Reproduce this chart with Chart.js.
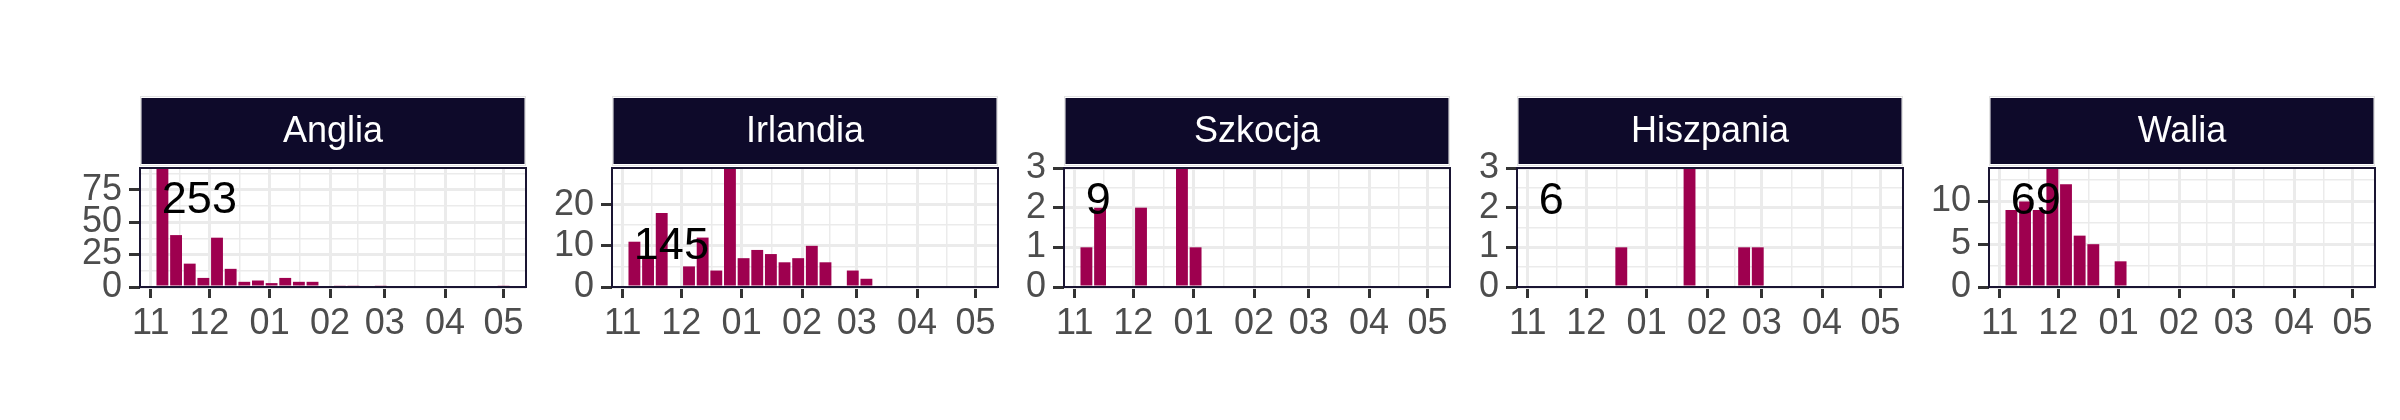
<!DOCTYPE html>
<html>
<head>
<meta charset="utf-8">
<script src="https://cdn.jsdelivr.net/npm/chart.js@4.4.1/dist/chart.umd.min.js"></script>
<style>
  html, body { margin: 0; padding: 0; background: #fff; }
  #page { position: relative; width: 2400px; height: 420px; overflow: hidden; }
  #page canvas { position: absolute; top: 0; }
</style>
</head>
<body>
<div id="page"></div>
<script>
// weekly bins: middle of each week, in days after 1 November
var weekDays = [6, 13, 20, 27, 34, 41, 48, 55, 62, 69, 76, 83, 90, 97, 104, 111, 118, 125, 132, 139, 146, 153, 160, 167, 174, 181];

var countries = ['Anglia', 'Irlandia', 'Szkocja', 'Hiszpania', 'Walia'];

var anglia    = [105, 40, 18, 7, 38, 14, 4, 5, 3, 7, 4, 4, 0, 1, 1, 0, 1, 0, 0, 0, 0, 0, 0, 0, 0, 1];
var irlandia  = [11, 7, 18, 0, 5, 12, 4, 29, 7, 9, 8, 6, 7, 10, 6, 0, 4, 2, 0, 0, 0, 0, 0, 0, 0, 0];
var szkocja   = [1, 2, 0, 0, 2, 0, 0, 3, 1, 0, 0, 0, 0, 0, 0, 0, 0, 0, 0, 0, 0, 0, 0, 0, 0, 0];
var hiszpania = [0, 0, 0, 0, 0, 0, 1, 0, 0, 0, 0, 3, 0, 0, 0, 1, 1, 0, 0, 0, 0, 0, 0, 0, 0, 0];
var walia     = [9, 10, 9, 15, 12, 6, 5, 0, 3, 0, 0, 0, 0, 0, 0, 0, 0, 0, 0, 0, 0, 0, 0, 0, 0, 0];

var totals  = [253, 145, 9, 6, 69];
var totalAt = [66.4, 9.9, 2.16, 2.16, 10];   // where the total sits, in counts

var monthDays   = [0, 30, 61, 92, 120, 151, 181];
var monthLabels = ['11', '12', '01', '02', '03', '04', '05'];

var yTicks = [[0, 25, 50, 75], [0, 10, 20], [0, 1, 2, 3], [0, 1, 2, 3], [0, 5, 10]];
var yTop   = [91.7, 28.9, 3, 3, 13.9];

// layout
var series = [anglia, irlandia, szkocja, hiszpania, walia];
var panelLeft = [140, 612, 1064, 1517, 1989];
var panelW = 386.5, axisW = 80, padR = 30;
var panelTop = 168, panelBottom = 287;
var xMin = -5.5, xMax = 192.5;

var FONT = "'Liberation Sans', Arial, Helvetica, sans-serif";
Chart.defaults.font.family = FONT;

// major breaks plus ggplot style minor breaks halfway between them
function withMinor(major, lo, hi) {
  var out = [];
  for (var i = 0; i < major.length; i++) {
    var prev = i > 0 ? major[i - 1] : major[i] - (major[1] - major[0]);
    var next = i < major.length - 1 ? major[i + 1] : major[i] + (major[i] - major[i - 1]);
    var before = (prev + major[i]) / 2;
    if (i === 0 && before > lo && before < hi) out.push({ value: before, main: false });
    out.push({ value: major[i], main: true });
    var mid = (major[i] + next) / 2;
    if (mid > lo && mid < hi) out.push({ value: mid, main: false });
  }
  return out;
}

var xTicks = withMinor(monthDays, xMin, xMax);

function isMain(ctx) { return ctx.tick && ctx.tick.main; }

var facetDecor = {
  id: 'facetDecor',
  afterDatasetsDraw: function (chart, args, opts) {
    var ctx = chart.ctx;
    ctx.save();
    ctx.font = '45px ' + FONT;
    ctx.fillStyle = '#000';
    ctx.textAlign = 'left';
    ctx.textBaseline = 'middle';
    ctx.fillText(String(opts.total), chart.scales.x.getPixelForValue(5.7), chart.scales.y.getPixelForValue(opts.totalAt));
    ctx.restore();
  },
  afterDraw: function (chart, args, opts) {
    var a = chart.chartArea, ctx = chart.ctx;
    ctx.save();
    // panel border
    ctx.strokeStyle = '#1A1533';
    ctx.lineWidth = 2;
    ctx.strokeRect(a.left, a.top, a.right - a.left, a.bottom - a.top);
    // strip
    ctx.strokeStyle = '#E3E3E3';
    ctx.lineWidth = 1;
    ctx.strokeRect(a.left + 0.5, 96.5, a.right - a.left - 1, 69);
    ctx.fillStyle = '#0E0A2A';
    ctx.fillRect(a.left + 1.5, 98, a.right - a.left - 3, 66);
    ctx.fillStyle = '#FFFFFF';
    ctx.font = '36px ' + FONT;
    ctx.textAlign = 'center';
    ctx.textBaseline = 'middle';
    ctx.fillText(opts.title, (a.left + a.right) / 2, 132);
    ctx.restore();
  }
};

var page = document.getElementById('page');

countries.forEach(function (name, i) {
  var canvas = document.createElement('canvas');
  canvas.width = axisW + panelW + padR;
  canvas.height = 420;
  canvas.style.left = (panelLeft[i] - axisW) + 'px';
  page.appendChild(canvas);

  var yt = withMinor(yTicks[i], 0, yTop[i]);

  new Chart(canvas.getContext('2d'), {
    type: 'bar',
    data: {
      datasets: [{
        data: weekDays.map(function (d, j) { return { x: d, y: series[i][j] }; }),
        backgroundColor: '#9E004F',
        borderWidth: 0,
        barPercentage: 0.87,
        categoryPercentage: 1
      }]
    },
    options: {
      responsive: false,
      animation: false,
      events: [],
      layout: { padding: { top: panelTop, right: padR, bottom: 0, left: 0 } },
      plugins: {
        legend: { display: false },
        tooltip: { enabled: false },
        facetDecor: { title: name, total: totals[i], totalAt: totalAt[i] }
      },
      scales: {
        x: {
          type: 'linear',
          min: xMin,
          max: xMax,
          offset: false,
          bounds: 'data',
          afterBuildTicks: function (s) { s.ticks = xTicks.map(function (t) { return { value: t.value, main: t.main }; }); },
          afterFit: function (s) { s.height = 420 - panelBottom; },
          border: { display: false },
          grid: {
            offset: false,
            color: '#EBEBEB',
            lineWidth: function (ctx) { return isMain(ctx) ? 3 : 1.5; },
            tickLength: 11,
            tickWidth: 3,
            tickColor: function (ctx) { return isMain(ctx) ? '#333333' : 'rgba(0,0,0,0)'; }
          },
          ticks: {
            autoSkip: false,
            maxRotation: 0,
            minRotation: 0,
            padding: 4,
            color: '#4D4D4D',
            font: { size: 36 },
            callback: function (v, idx, ticks) {
              return ticks[idx].main ? monthLabels[monthDays.indexOf(v)] : '';
            }
          }
        },
        y: {
          min: 0,
          max: yTop[i],
          bounds: 'data',
          afterBuildTicks: function (s) { s.ticks = yt.map(function (t) { return { value: t.value, main: t.main }; }); },
          afterFit: function (s) { s.width = axisW; },
          border: { display: false },
          grid: {
            color: '#EBEBEB',
            lineWidth: function (ctx) { return isMain(ctx) ? 3 : 1.5; },
            tickLength: 11,
            tickWidth: 3,
            tickColor: function (ctx) { return isMain(ctx) ? '#333333' : 'rgba(0,0,0,0)'; }
          },
          ticks: {
            autoSkip: false,
            padding: 7,
            color: '#4D4D4D',
            font: { size: 36 },
            callback: function (v, idx, ticks) { return ticks[idx].main ? String(v) : ''; }
          }
        }
      }
    },
    plugins: [facetDecor]
  });
});
</script>
</body>
</html>
